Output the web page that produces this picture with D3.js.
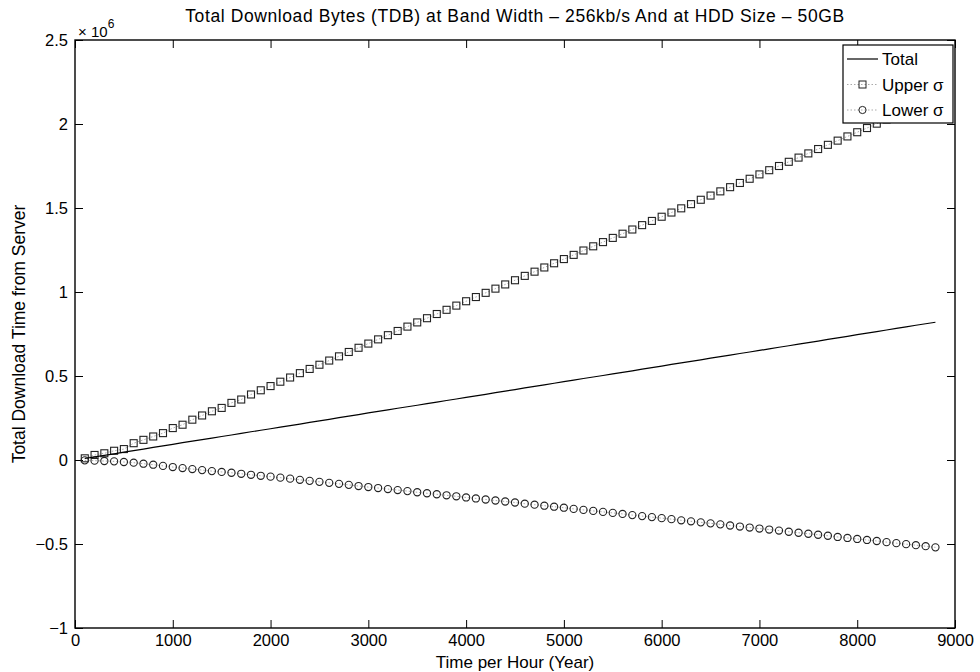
<!DOCTYPE html>
<html><head><meta charset="utf-8">
<script src="https://cdn.jsdelivr.net/npm/d3@7/dist/d3.min.js"></script>
<style>body{margin:0;background:#fff}svg{display:block}text{font-family:Arial,"Liberation Sans",Helvetica,sans-serif;fill:#000}</style>
</head><body><svg id="c" width="980" height="672"></svg>
<script>
// hours (time axis), step 100
const hours = [100,200,300,400,500,600,700,800,900,1000,1100,1200,1300,1400,1500,1600,1700,1800,1900,2000,
2100,2200,2300,2400,2500,2600,2700,2800,2900,3000,3100,3200,3300,3400,3500,3600,3700,3800,3900,4000,
4100,4200,4300,4400,4500,4600,4700,4800,4900,5000,5100,5200,5300,5400,5500,5600,5700,5800,5900,6000,
6100,6200,6300,6400,6500,6600,6700,6800,6900,7000,7100,7200,7300,7400,7500,7600,7700,7800,7900,8000,
8100,8200,8300,8400,8500,8600,8700,8800];
// values in units of 1e6
const total = [0.009,0.019,0.028,0.037,0.047,0.056,0.065,0.075,0.084,0.093,0.103,0.112,0.121,0.130,0.140,0.149,0.158,0.168,0.177,0.186,
0.196,0.205,0.214,0.224,0.233,0.242,0.252,0.261,0.270,0.280,0.289,0.298,0.308,0.317,0.326,0.336,0.345,0.354,0.363,0.373,
0.382,0.391,0.401,0.410,0.419,0.429,0.438,0.447,0.457,0.466,0.475,0.485,0.494,0.503,0.513,0.522,0.531,0.541,0.550,0.559,
0.569,0.578,0.587,0.596,0.606,0.615,0.624,0.634,0.643,0.652,0.662,0.671,0.680,0.690,0.699,0.708,0.718,0.727,0.736,0.746,
0.755,0.764,0.774,0.783,0.792,0.802,0.811,0.820];
const upper = [0.010,0.030,0.040,0.055,0.065,0.100,0.120,0.140,0.160,0.190,0.210,0.240,0.265,0.290,0.310,0.340,0.360,0.390,0.415,0.440,
0.466,0.491,0.517,0.542,0.567,0.592,0.617,0.643,0.668,0.693,0.718,0.743,0.768,0.794,0.819,0.844,0.869,0.894,0.919,0.945,
0.970,0.995,1.020,1.045,1.070,1.096,1.121,1.146,1.171,1.196,1.221,1.247,1.272,1.297,1.322,1.347,1.372,1.398,1.423,1.448,
1.473,1.498,1.523,1.549,1.574,1.599,1.624,1.649,1.674,1.700,1.725,1.750,1.775,1.800,1.825,1.851,1.876,1.901,1.926,1.951,
1.976,2.002,2.027,2.052,2.077,2.102,2.127,2.153];
const lower = [-0.002,-0.004,-0.006,-0.008,-0.012,-0.016,-0.022,-0.028,-0.035,-0.042,-0.048,-0.054,-0.060,-0.066,-0.071,-0.076,-0.082,-0.088,-0.094,-0.099,
-0.105,-0.111,-0.118,-0.124,-0.130,-0.136,-0.142,-0.148,-0.155,-0.161,-0.167,-0.173,-0.179,-0.185,-0.192,-0.198,-0.204,-0.210,-0.216,-0.223,
-0.229,-0.235,-0.241,-0.247,-0.253,-0.260,-0.266,-0.272,-0.278,-0.284,-0.291,-0.297,-0.303,-0.309,-0.315,-0.321,-0.328,-0.334,-0.340,-0.346,
-0.352,-0.359,-0.365,-0.371,-0.377,-0.383,-0.390,-0.396,-0.402,-0.408,-0.414,-0.420,-0.427,-0.433,-0.439,-0.445,-0.451,-0.458,-0.464,-0.470,
-0.476,-0.482,-0.489,-0.495,-0.501,-0.507,-0.513,-0.520];
const xTicks = [0,1000,2000,3000,4000,5000,6000,7000,8000,9000];
const yTicks = [-1,-0.5,0,0.5,1,1.5,2,2.5];
const yTickLabels = ["\u22121","\u22120.5","0","0.5","1","1.5","2","2.5"];
const legendLabels = ["Total","Upper \u03c3","Lower \u03c3"];
const titleText = "Total Download Bytes (TDB) at Band Width \u2013 256kb/s And at HDD Size \u2013 50GB";

const svg = d3.select("#c");
const L=75,R=955,T=40,B=628;
const x = d3.scaleLinear().domain([0,9000]).range([L,R]);
const y = d3.scaleLinear().domain([-1,2.5]).range([B,T]);
const tl = 8;
const fs = 16.5;

// frame
svg.append("rect").attr("x",L).attr("y",T).attr("width",R-L).attr("height",B-T)
  .attr("fill","none").attr("stroke","#000").attr("stroke-width",1.4);

// axes
const xa = svg.append("g").attr("transform",`translate(0,${B})`)
  .call(d3.axisBottom(x).tickValues(xTicks).tickSize(-tl).tickPadding(6).tickFormat(d3.format("d")));
const xt = svg.append("g").attr("transform",`translate(0,${T})`)
  .call(d3.axisTop(x).tickValues(xTicks).tickSize(-tl).tickFormat(""));
const ya = svg.append("g").attr("transform",`translate(${L},0)`)
  .call(d3.axisLeft(y).tickValues(yTicks).tickSize(-tl).tickPadding(7).tickFormat((d,i)=>yTickLabels[i]));
const yr = svg.append("g").attr("transform",`translate(${R},0)`)
  .call(d3.axisRight(y).tickValues(yTicks).tickSize(-tl).tickFormat(""));
[xa,xt,ya,yr].forEach(g=>{g.select(".domain").remove();g.selectAll("line").attr("stroke","#000");
  g.selectAll("text").attr("font-size",fs).attr("font-family","Arial, 'Liberation Sans', sans-serif").attr("fill","#000");});

// exponent label
const ex = svg.append("text").attr("x",L+3).attr("y",T-3).attr("font-size",15);
ex.append("tspan").text("\u00d7 10");
ex.append("tspan").attr("dy",-9).attr("font-size",12).text("6");

// title & labels
svg.append("text").attr("x",(L+R)/2).attr("y",22).attr("text-anchor","middle").attr("font-size",17.5).attr("letter-spacing",0.6).text(titleText);
svg.append("text").attr("x",(L+R)/2).attr("y",668).attr("text-anchor","middle").attr("font-size",17).text("Time per Hour (Year)");
svg.append("text").attr("transform",`translate(25,${(T+B)/2}) rotate(-90)`).attr("text-anchor","middle").attr("font-size",17.5).text("Total Download Time from Server");

const plot = svg.append("g");
const line = d3.line().x((d,i)=>x(hours[i])).y(d=>y(d));

// upper sigma
plot.append("path").attr("d",line(upper)).attr("fill","none").attr("stroke","#aaa").attr("stroke-width",1).attr("stroke-dasharray","1.5,2");
plot.selectAll(".up").data(upper).enter().append("rect")
  .attr("x",(d,i)=>x(hours[i])-3.5).attr("y",d=>y(d)-3.5).attr("width",7).attr("height",7)
  .attr("fill","none").attr("stroke","#222").attr("stroke-width",1.1);
// lower sigma
plot.append("path").attr("d",line(lower)).attr("fill","none").attr("stroke","#aaa").attr("stroke-width",1).attr("stroke-dasharray","1.5,2");
plot.selectAll(".lo").data(lower).enter().append("circle")
  .attr("cx",(d,i)=>x(hours[i])).attr("cy",d=>y(d)).attr("r",3.6)
  .attr("fill","none").attr("stroke","#222").attr("stroke-width",1.1);
// total
plot.append("path").attr("d",line(total)).attr("fill","none").attr("stroke","#000").attr("stroke-width",1.2);

// legend
const lg = svg.append("g");
lg.append("rect").attr("x",843).attr("y",45).attr("width",110).attr("height",78).attr("fill","#fff").attr("stroke","#000").attr("stroke-width",1.2);
const ly = [59,84.5,110];
lg.append("line").attr("x1",847).attr("x2",878).attr("y1",ly[0]).attr("y2",ly[0]).attr("stroke","#000").attr("stroke-width",1.2);
lg.append("line").attr("x1",847).attr("x2",878).attr("y1",ly[1]).attr("y2",ly[1]).attr("stroke","#aaa").attr("stroke-dasharray","1.5,2");
lg.append("rect").attr("x",859).attr("y",ly[1]-3.5).attr("width",7).attr("height",7).attr("fill","none").attr("stroke","#222");
lg.append("line").attr("x1",847).attr("x2",878).attr("y1",ly[2]).attr("y2",ly[2]).attr("stroke","#aaa").attr("stroke-dasharray","1.5,2");
lg.append("circle").attr("cx",862.5).attr("cy",ly[2]).attr("r",3.6).attr("fill","none").attr("stroke","#222");
lg.selectAll(".lt").data(legendLabels).enter().append("text")
  .attr("x",882).attr("y",(d,i)=>ly[i]).attr("dy","0.36em").attr("font-size",17).text(d=>d);
</script></body></html>
